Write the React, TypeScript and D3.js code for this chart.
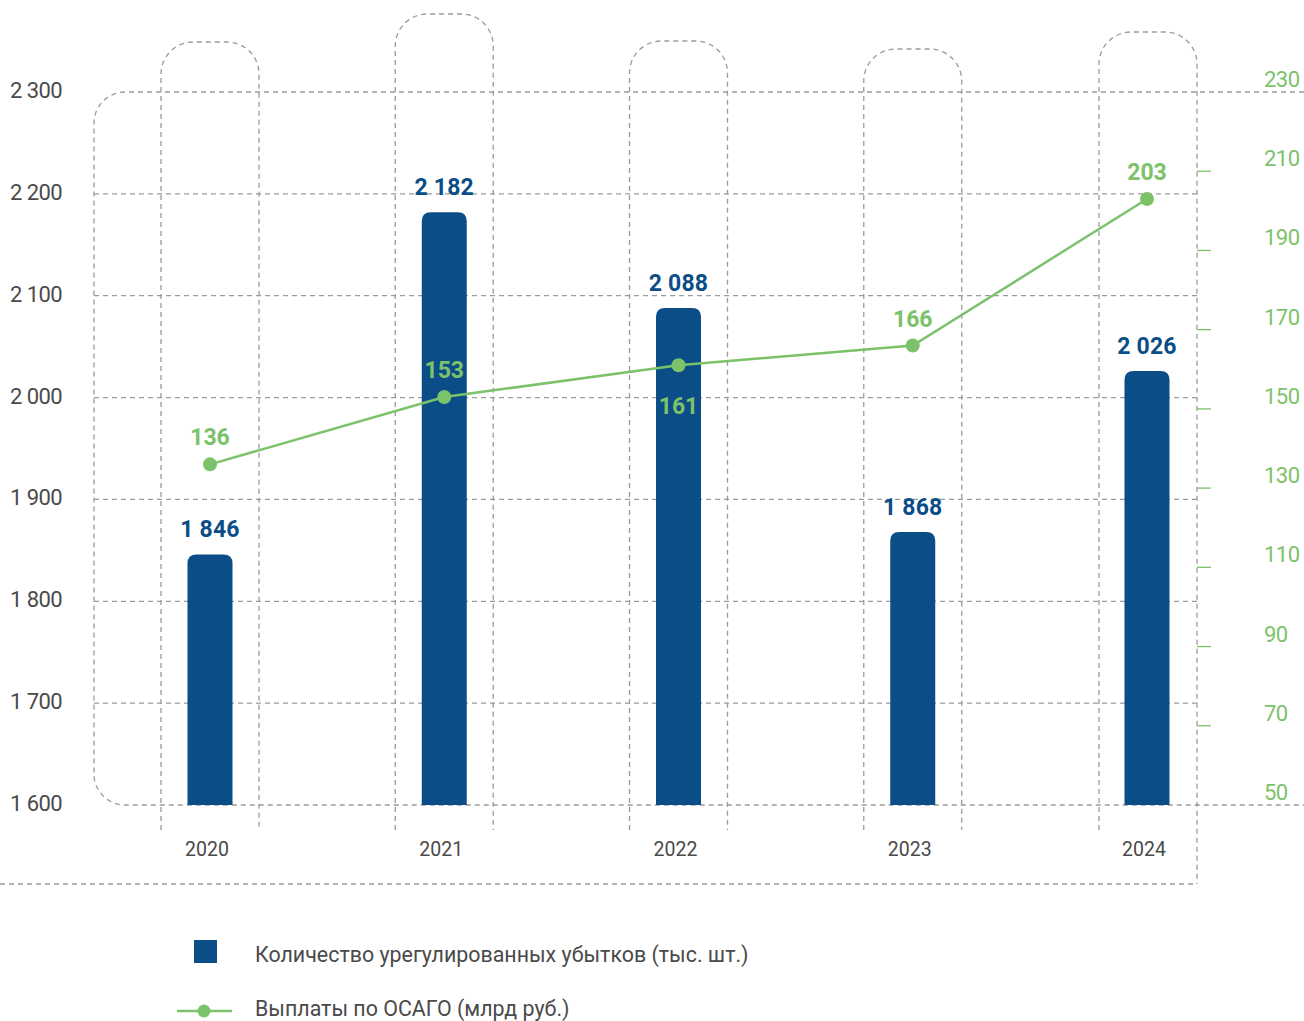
import * as d3 from "d3";

const YEARS = ["2020", "2021", "2022", "2023", "2024"];
const CLAIMS = [1846, 2182, 2088, 1868, 2026];
const PAYOUTS = [136, 153, 161, 166, 203];
const CLAIMS_LABELS = ["1 846", "2 182", "2 088", "1 868", "2 026"];
const LEFT_TICKS = [1600, 1700, 1800, 1900, 2000, 2100, 2200, 2300];
const LEFT_TICK_LABELS = ["1 600", "1 700", "1 800", "1 900", "2 000", "2 100", "2 200", "2 300"];
const RIGHT_TICKS = [50, 70, 90, 110, 130, 150, 170, 190, 210, 230];
const LEGEND = ["Количество урегулированных убытков (тыс. шт.)", "Выплаты по ОСАГО (млрд руб.)"];

// decorative column outlines: top of each rounded "pill"
const PILL_TOPS = [42, 14, 41, 49, 32];
// payout label placed above (-1) or below (1) its point
const PAYOUT_LABEL_SIDE = [-1, -1, 1, -1, -1];

const W = 1304;
const H = 1021;
const TOP = 92;
const BOTTOM = 805;
const FRAME_LEFT = 94;
const PILL_HALF = 49;
const FONT = "Roboto, 'Noto Sans', sans-serif";
const BLUE = "#0b4d87";
const GREEN = "#7cc26a";
const GRID = "#9b9b9b";
const TEXT = "#4a4a4a";
const DASH = "5,4";

const App = () => {
  const x = d3.scalePoint<string>().domain(YEARS).range([210, 1147]);
  const yLeft = d3.scaleLinear().domain([1600, 2300]).range([BOTTOM, TOP]);
  const yRight = d3.scaleLinear().domain([50, 230]).range([BOTTOM, TOP]);

  const axisX = 1197;
  const barW = 45;
  const r = 31;

  // outer frame: top (2300) and bottom (1600) lines joined by a rounded left side
  const frame = `M${W},${TOP} H${FRAME_LEFT + r} A${r},${r} 0 0 0 ${FRAME_LEFT},${TOP + r} V${BOTTOM - r} A${r},${r} 0 0 0 ${FRAME_LEFT + r},${BOTTOM} H${W}`;

  const pill = (cx: number, top: number, bottomL: number, bottomR: number) => {
    const pr = 32;
    const l = cx - PILL_HALF;
    const rr = cx + PILL_HALF;
    return `M${l},${bottomL} V${top + pr} A${pr},${pr} 0 0 1 ${l + pr},${top} H${rr - pr} A${pr},${pr} 0 0 1 ${rr},${top + pr} V${bottomR}`;
  };

  const barPath = (cx: number, yTop: number) => {
    const br = 9;
    const l = cx - barW / 2;
    const rgt = cx + barW / 2;
    return `M${l},${BOTTOM} V${yTop + br} Q${l},${yTop} ${l + br},${yTop} H${rgt - br} Q${rgt},${yTop} ${rgt},${yTop + br} V${BOTTOM} Z`;
  };

  const line = d3
    .line<number>()
    .x((_, i) => x(YEARS[i]) || 0)
    .y((d) => yRight(d));

  return (
    <svg
      width={W}
      height={H}
      style={{ position: "absolute", left: 0, top: 0, background: "#fff" }}
      fontFamily={FONT}
    >
      {/* grid */}
      <g fill="none" stroke={GRID} strokeWidth={1.3} strokeDasharray={DASH}>
        <path d={frame} />
        {LEFT_TICKS.slice(1, -1).map((t) => (
          <line key={t} x1={FRAME_LEFT} x2={axisX} y1={yLeft(t)} y2={yLeft(t)} />
        ))}
        {YEARS.map((yr, i) => {
          const last = i === YEARS.length - 1;
          const cx = last ? axisX - PILL_HALF : (x(yr) || 0);
          return <path key={yr} d={pill(cx, PILL_TOPS[i], 830, last ? 884 : 830)} />;
        })}
        <path d={`M0,884 H${axisX}`} />
      </g>

      {/* right axis ticks */}
      <g stroke={GREEN} strokeWidth={1.3}>
        {RIGHT_TICKS.slice(1, -1).map((t) => (
          <line key={t} x1={axisX} x2={axisX + 14} y1={yRight(t)} y2={yRight(t)} />
        ))}
      </g>

      {/* left axis labels */}
      <g fill={TEXT} fontSize={22} textAnchor="end">
        {LEFT_TICKS.map((t, i) => (
          <text key={t} x={62} y={yLeft(t) + 6} letterSpacing={-0.6}>
            {LEFT_TICK_LABELS[i]}
          </text>
        ))}
      </g>

      {/* right axis labels */}
      <g fill={GREEN} fontSize={22}>
        {RIGHT_TICKS.map((t) => (
          <text key={t} x={1264} y={yRight(t) - 5} letterSpacing={-0.5}>
            {t}
          </text>
        ))}
      </g>

      {/* bars */}
      {CLAIMS.map((v, i) => {
        const cx = x(YEARS[i]) || 0;
        return (
          <g key={YEARS[i]}>
            <path d={barPath(cx, yLeft(v))} fill={BLUE} />
            <text
              x={cx}
              y={yLeft(v) - 17}
              textAnchor="middle"
              fill={BLUE}
              fontSize={23}
              fontWeight={700}
              letterSpacing={0.2}
            >
              {CLAIMS_LABELS[i]}
            </text>
          </g>
        );
      })}

      {/* x labels */}
      <g fill={TEXT} fontSize={19.5} textAnchor="middle">
        {YEARS.map((yr) => (
          <text key={yr} x={(x(yr) || 0) - 3} y={856}>
            {yr}
          </text>
        ))}
      </g>

      {/* payouts line */}
      <path d={line(PAYOUTS) || ""} fill="none" stroke={GREEN} strokeWidth={2.5} />
      {PAYOUTS.map((v, i) => {
        const cx = x(YEARS[i]) || 0;
        const cy = yRight(v);
        const below = PAYOUT_LABEL_SIDE[i] > 0;
        return (
          <g key={YEARS[i]}>
            <circle cx={cx} cy={cy} r={7} fill={GREEN} />
            <text
              x={cx}
              y={below ? cy + 49 : cy - 19}
              textAnchor="middle"
              fill={GREEN}
              fontSize={23}
              fontWeight={700}
            >
              {v}
            </text>
          </g>
        );
      })}

      {/* legend */}
      <rect x={194} y={940} width={23} height={23} fill={BLUE} />
      <text x={255} y={962} fill={TEXT} fontSize={21.4}>
        {LEGEND[0]}
      </text>
      <line x1={177} x2={232} y1={1011} y2={1011} stroke={GREEN} strokeWidth={2.5} />
      <circle cx={204} cy={1011} r={6.5} fill={GREEN} />
      <text x={255} y={1016} fill={TEXT} fontSize={21.4}>
        {LEGEND[1]}
      </text>
    </svg>
  );
};

export default App;
